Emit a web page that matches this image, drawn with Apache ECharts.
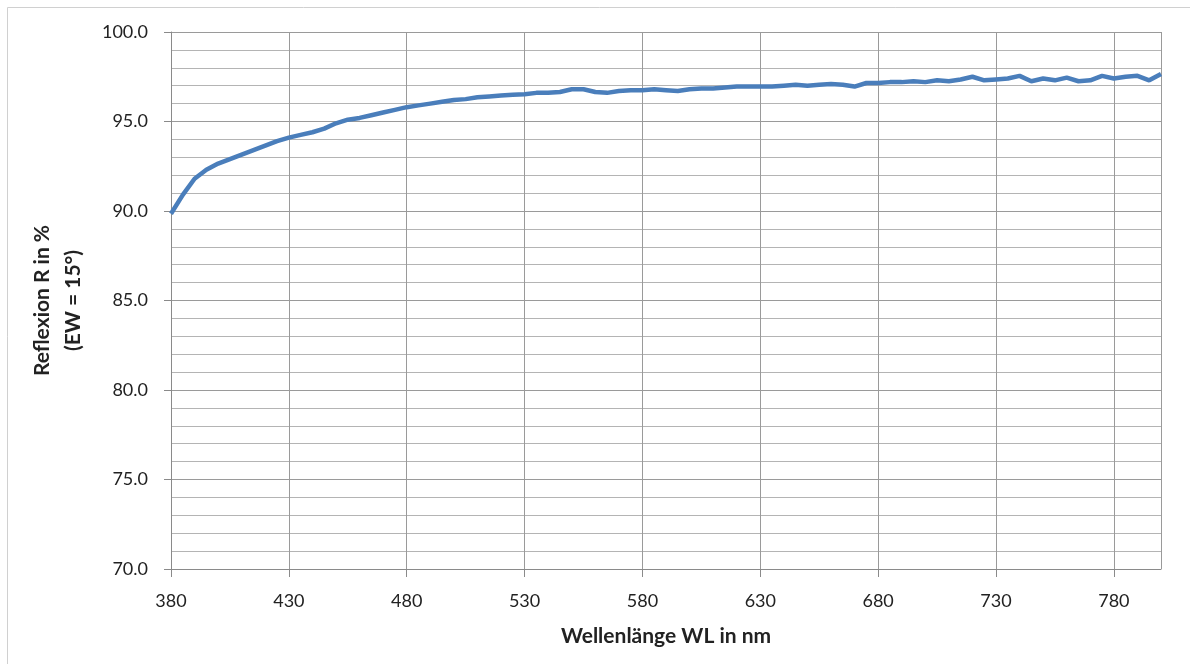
<!DOCTYPE html>
<html>
<head>
<meta charset="utf-8">
<script src="https://cdn.jsdelivr.net/npm/echarts@6/dist/echarts.min.js"></script>
<style>
html,body{margin:0;padding:0;background:#fff;}
#c{width:1190px;height:664px;}
</style>
</head>
<body>
<div id="c"></div>
<script>
// Wavelength (nm), every 5 nm
const wavelengths = [380,385,390,395,400,405,410,415,420,425,430,435,440,445,450,455,460,465,470,475,480,485,490,495,500,505,510,515,520,525,530,535,540,545,550,555,560,565,570,575,580,585,590,595,600,605,610,615,620,625,630,635,640,645,650,655,660,665,670,675,680,685,690,695,700,705,710,715,720,725,730,735,740,745,750,755,760,765,770,775,780,785,790,795,800];
// Reflexion R in % (EW = 15°)
const reflexion = [89.85,90.9,91.8,92.3,92.65,92.9,93.15,93.4,93.65,93.9,94.1,94.25,94.4,94.6,94.9,95.1,95.2,95.35,95.5,95.65,95.8,95.9,96.0,96.1,96.2,96.25,96.35,96.4,96.45,96.5,96.52,96.6,96.6,96.65,96.8,96.8,96.65,96.6,96.7,96.75,96.75,96.8,96.75,96.7,96.8,96.85,96.85,96.9,96.95,96.95,96.95,96.95,97.0,97.05,97.0,97.05,97.1,97.05,96.95,97.15,97.15,97.2,97.2,97.25,97.2,97.3,97.25,97.35,97.5,97.3,97.35,97.4,97.55,97.25,97.4,97.3,97.45,97.25,97.3,97.55,97.4,97.5,97.55,97.3,97.65];
const xTicks = [380,430,480,530,580,630,680,730,780];
const yTicks = [70,75,80,85,90,95,100];
const xName = 'Wellenlänge WL in nm';
const yName = 'Reflexion R in %\n(EW = 15°)';

const font = 'Lato, "Open Sans", sans-serif';
const chart = echarts.init(document.getElementById('c'), null, {renderer:'canvas'});
chart.setOption({
  animation:false,
  backgroundColor:'#fff',
  graphic:[{type:'rect',shape:{x:7.5,y:7.5,width:1200,height:700},style:{fill:'none',stroke:'#d0d0d0',lineWidth:1},silent:true,z:-1}],
  grid:{left:171,right:29,top:32,bottom:95},
  xAxis:{
    type:'value',min:xTicks[0],max:800,interval:50,
    name:xName,nameLocation:'middle',nameGap:57,
    nameTextStyle:{fontFamily:font,fontSize:21,fontWeight:'bold',color:'#222'},
    axisLine:{show:true,lineStyle:{color:'#8a8a8a',width:1}},
    axisTick:{show:true,inside:false,length:8,lineStyle:{color:'#8a8a8a'}},
    axisLabel:{margin:23,fontFamily:font,fontSize:18,color:'#222',showMaxLabel:false},
    splitLine:{show:true,lineStyle:{color:'#9a9a9a',width:1}}
  },
  yAxis:{
    type:'value',min:yTicks[0],max:yTicks[yTicks.length-1],interval:5,
    name:yName,nameLocation:'middle',nameGap:82,nameRotate:90,
    nameTextStyle:{fontFamily:font,fontSize:21,fontWeight:'bold',color:'#222',lineHeight:31,align:'center'},
    axisLine:{show:true,lineStyle:{color:'#8a8a8a',width:1}},
    axisTick:{show:true,inside:false,length:7,lineStyle:{color:'#8a8a8a'}},
    axisLabel:{margin:23,fontFamily:font,fontSize:18,color:'#222',formatter:v=>v.toFixed(1)},
    splitLine:{show:true,lineStyle:{color:'#9a9a9a',width:1}},
    minorTick:{show:false,splitNumber:5},
    minorSplitLine:{show:true,lineStyle:{color:'#b4b4b4',width:1}}
  },
  series:[{
    type:'line',
    data:wavelengths.map((w,i)=>[w,reflexion[i]]),
    showSymbol:false,symbol:'none',
    lineStyle:{color:'#4a7ebb',width:4.5},
    itemStyle:{color:'#4a7ebb'},
    z:5
  }]
});
</script>
</body>
</html>
